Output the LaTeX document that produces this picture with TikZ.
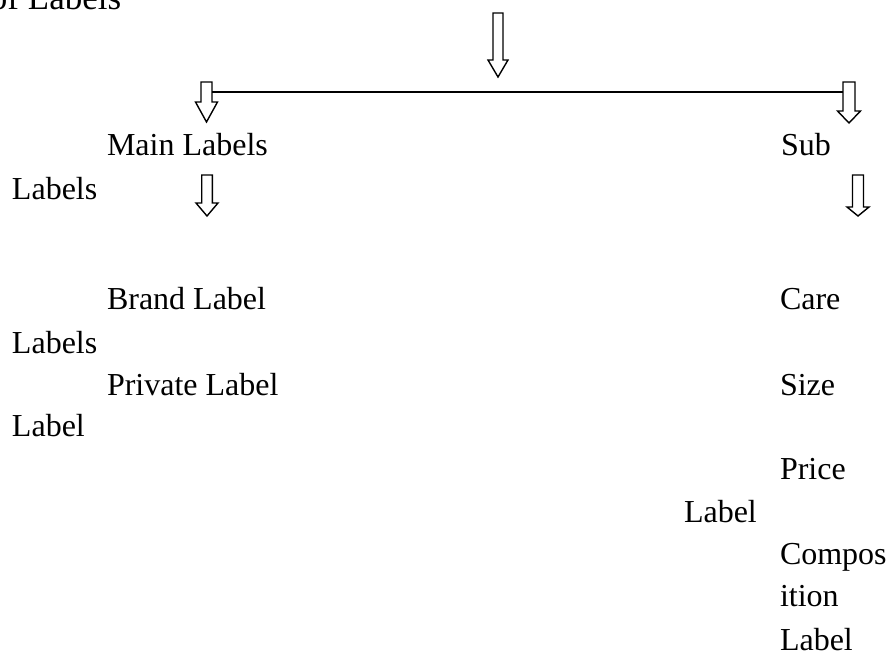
\documentclass[tikz,border=0pt]{standalone}
\usepackage{fontspec}
\setmainfont{Liberation Serif}
\tikzset{
  lbl/.style={anchor=base west, inner sep=0pt, outer sep=0pt, font=\fontsize{32}{38}\selectfont},
  ttl/.style={anchor=base west, inner sep=0pt, outer sep=0pt, font=\fontsize{35}{42}\selectfont},
  barrow/.style={draw=black, line width=1.4pt, fill=white, line join=miter},
  hline/.style={draw=black, line width=1.3pt}
}
% #1 cx, #2 top y, #3 shaft half width, #4 head top y, #5 head half width, #6 tip y
\newcommand\myblockarrow[6]{%
  \draw[barrow] (#1-#3,#2) -- (#1+#3,#2) -- (#1+#3,#4) -- (#1+#5,#4) -- (#1,#6)
    -- (#1-#5,#4) -- (#1-#3,#4) -- cycle;}
\begin{document}
\begin{tikzpicture}[x=1pt,y=-1pt]
\useasboundingbox (0,0) rectangle (889,652);
% block arrows
\myblockarrow{498}{13}{5}{60}{10}{77}
\myblockarrow{206.5}{82}{5.5}{102}{11}{122}
\myblockarrow{849}{82}{6}{111}{11.5}{123}
\myblockarrow{207}{175}{5.3}{203}{11}{216}
\myblockarrow{858}{175}{5.5}{207}{11}{216}
% connector line
\coordinate (lineL) at (212,92);
\coordinate (lineR) at (843,92);
\draw[hline] (lineL) -- (lineR);
% texts
\node[ttl] (title) at (-10,10) {of Labels};
\node[lbl] (main) at (107,156) {Main Labels};
\node[lbl] (labelsA) at (12,200) {Labels};
\node[lbl] (sub) at (781,156) {Sub};
\node[lbl] (brand) at (107,310) {Brand Label};
\node[lbl] (labelsB) at (12,353) {Labels};
\node[lbl] (private) at (107,395) {Private Label};
\node[lbl] (labelA) at (12,436) {Label};
\node[lbl] (care) at (780,310) {Care};
\node[lbl] (size) at (780,395) {Size};
\node[lbl] (price) at (780,479) {Price};
\node[lbl] (labelB) at (684,522) {Label};
\node[lbl] (compos) at (780,564) {Compos};
\node[lbl] (ition) at (780,606) {ition};
\node[lbl] (labelC) at (780,650) {Label};
\end{tikzpicture}
\end{document}
